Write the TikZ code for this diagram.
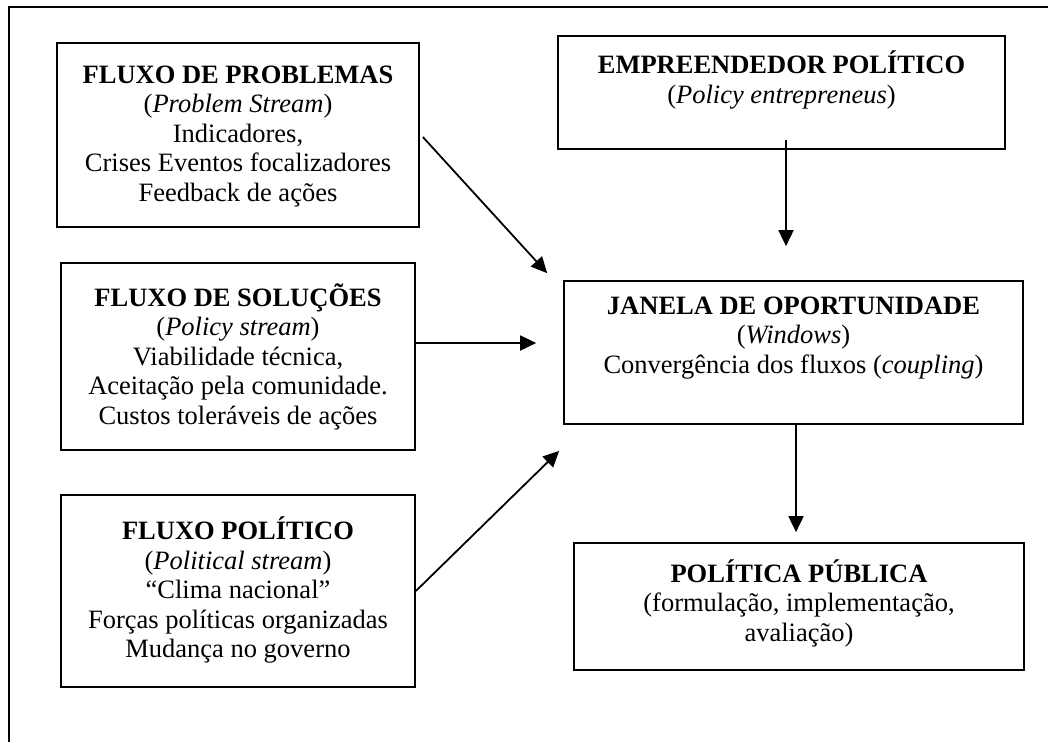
\documentclass[tikz,border=0pt]{standalone}
\usepackage{fontspec}
\setmainfont{Liberation Serif}
\usetikzlibrary{arrows.meta}
\tikzset{
    box/.style={draw, line width=1.7pt, inner sep=0pt},
    txt/.style={align=center, inner sep=0pt, font=\fontsize{26.5}{29.5}\selectfont},
    arr/.style={line width=1.8pt, -{Triangle[length=16pt, width=15pt]}}
}
\begin{document}
\begin{tikzpicture}[x=1pt, y=-1pt]
        \useasboundingbox (0,0) rectangle (1048,742);
        % frame
        \draw[line width=1.7pt] (1048,7) -- (9,7) -- (9,742);
        % boxes
        \node[box, minimum width=362, minimum height=184] (prob) at (238,135) {};
        \node[box, minimum width=354, minimum height=187] (sol) at (238,356.5) {};
        \node[box, minimum width=354, minimum height=192] (pol) at (238,591) {};
        \node[box, minimum width=447, minimum height=113] (emp) at (781.5,92.5) {};
        \node[box, minimum width=459, minimum height=143] (jan) at (793.5,352.5) {};
        \node[box, minimum width=450, minimum height=127] (pub) at (799,606.5) {};
        % texts
        \node[txt] (probtxt) at (238,136.5) {\textbf{FLUXO DE PROBLEMAS}\\(\textit{Problem Stream})\\Indicadores,\\Crises Eventos focalizadores\\Feedback de ações};
        \node[txt] (soltxt) at (238,356.5) {\textbf{FLUXO DE SOLUÇÕES}\\(\textit{Policy stream})\\Viabilidade técnica,\\Aceitação pela comunidade.\\Custos toleráveis de ações};
        \node[txt] (poltxt) at (238,590) {\textbf{FLUXO POLÍTICO}\\(\textit{Political stream})\\“Clima nacional”\\Forças políticas organizadas\\Mudança no governo};
        \node[txt] (emptxt) at (781.5,80) {\textbf{EMPREENDEDOR POLÍTICO}\\(\textit{Policy entrepreneus})};
        \node[txt] (jantxt) at (793.5,338) {\textbf{JANELA DE OPORTUNIDADE}\\(\textit{Windows})\\Convergência dos fluxos (\textit{coupling})};
        \node[txt] (pubtxt) at (799,603) {\textbf{POLÍTICA PÚBLICA}\\(formulação, implementação,\\avaliação)};
        % arrows
        \draw[arr] ([xshift=3pt, yshift=-2pt]prob.east) -- ([xshift=-16pt, yshift=7pt]jan.north west);
        \draw[arr] ([yshift=13.5pt]sol.east) -- ([xshift=-27pt, yshift=9.5pt]jan.west);
        \draw[arr] (pol.east) -- ([xshift=-4pt, yshift=-26pt]jan.south west);
        \draw[arr] ([xshift=4.5pt, yshift=10pt]emp.south) -- ([xshift=-7.5pt, yshift=34pt]jan.north);
        \draw[arr] ([xshift=2.5pt]jan.south) -- ([xshift=-3pt, yshift=10pt]pub.north);
\end{tikzpicture}
\end{document}
